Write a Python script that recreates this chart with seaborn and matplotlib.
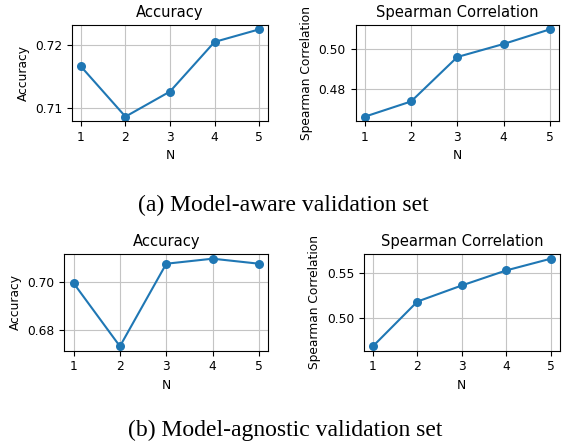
import pandas as pd
import numpy as np
import matplotlib
matplotlib.use('Agg')
import matplotlib.pyplot as plt
import seaborn as sns

# 데이터
n_values = [1, 2, 3, 4, 5]
aware_acc = [0.7166, 0.7086, 0.7126, 0.7205, 0.7225]
aware_spearman = [0.4662, 0.4738, 0.4960, 0.5025, 0.5098]
agnostic_acc = [0.6995, 0.6731, 0.7076, 0.7097, 0.7076]
agnostic_spearman = [0.4677, 0.5182, 0.5364, 0.5534, 0.5666]

plt.rcParams['font.family'] = ['DejaVu Sans']
plt.rcParams['font.size'] = 8.8

fig = plt.figure(figsize=(5.66, 4.46), dpi=100)

# 위치 (figure 좌표)
positions = [
    [0.1272, 0.7287, 0.3463, 0.2152],
    [0.6284, 0.7287, 0.3592, 0.2152],
    [0.1136, 0.2137, 0.3604, 0.2161],
    [0.6431, 0.2137, 0.3458, 0.2161],
]
series = [aware_acc, aware_spearman, agnostic_acc, agnostic_spearman]
titles = ['Accuracy', 'Spearman Correlation', 'Accuracy', 'Spearman Correlation']
yticks = [[0.71, 0.72], [0.48, 0.50], [0.68, 0.70], [0.50, 0.55]]

for pos, vals, title, yt in zip(positions, series, titles, yticks):
    ax = fig.add_axes(pos)
    df = pd.DataFrame({'N': n_values, 'val': vals})
    sns.lineplot(data=df, x='N', y='val', marker='o', markersize=6.5,
                 markeredgewidth=0, color='#1f77b4', ax=ax)
    ax.set_title(title, fontsize=10.6)
    ax.set_xlabel('N', fontsize=8.8)
    ax.set_ylabel(title, fontsize=8.8)
    ax.set_xticks(n_values)
    ax.set_yticks(yt)
    ax.yaxis.set_major_formatter(matplotlib.ticker.FormatStrFormatter('%.2f'))
    ax.tick_params(labelsize=8.8)
    ax.grid(True, color='#c4c4c4')

fig.text(0.5, 0.5404, '(a) Model-aware validation set', ha='center', va='center',
         family='Liberation Serif', fontsize=17)
fig.text(0.5035, 0.0359, '(b) Model-agnostic validation set', ha='center', va='center',
         family='Liberation Serif', fontsize=17)

fig.savefig('out.png', dpi=100)
